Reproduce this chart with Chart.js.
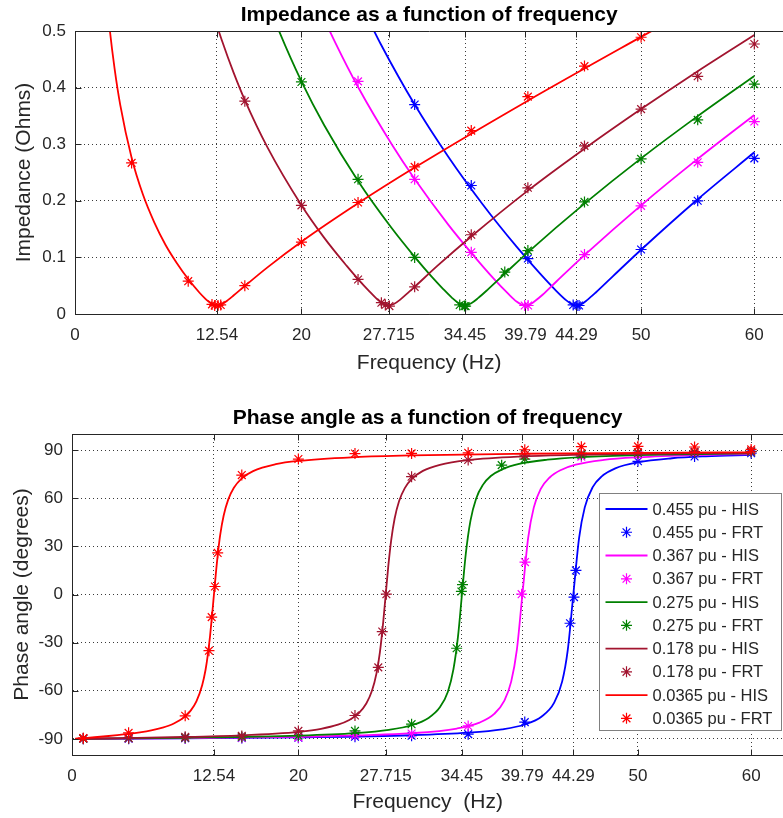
<!DOCTYPE html>
<html>
<head>
<meta charset="utf-8">
<script src="https://cdn.jsdelivr.net/npm/chart.js@4.4.1/dist/chart.umd.min.js"></script>
<style>
  html, body { margin: 0; padding: 0; background: #fff; overflow: hidden; }
  #wrap { position: relative; width: 783px; height: 818px; overflow: hidden; }
  canvas { position: absolute; left: 0; }
  #impChart { top: 0; }
  #phaseChart { top: 395px; }
</style>
</head>
<body>
<div id="wrap">
  <canvas id="impChart" width="790" height="395"></canvas>
  <canvas id="phaseChart" width="790" height="423"></canvas>
</div>
<script>
// axis ticks
const freqTicks = [0, 12.54, 20, 27.715, 34.45, 39.79, 44.29, 50, 60];
const freqTickLabels = ['0', '12.54', '20', '27.715', '34.45', '39.79', '44.29', '50', '60'];
const impTicks = [0, 0.1, 0.2, 0.3, 0.4, 0.5];
const impTickLabels = ['0', '0.1', '0.2', '0.3', '0.4', '0.5'];
const phaseTicks = [-90, -60, -30, 0, 30, 60, 90];
const phaseTickLabels = ['-90', '-60', '-30', '0', '30', '60', '90'];

// 0.455 pu
const his455ImpF = [25, 26, 27, 30, 33, 36, 39, 41, 42.5, 43.4, 43.9, 44.29, 44.7, 45.2, 46, 47.5, 50, 55, 60];
const his455Imp = [0.559, 0.517, 0.477, 0.370, 0.277, 0.194, 0.119, 0.073, 0.041, 0.024, 0.017, 0.015, 0.017, 0.024, 0.038, 0.0665, 0.1135, 0.2027, 0.2857];
const his455PhF = [0.3, 1, 10, 20, 30, 35, 38, 40, 41.5, 42.6, 43.3, 43.8, 44.29, 44.8, 45.3, 46, 46.8, 48, 50, 53, 56, 60];
const his455Ph = [-89.97, -89.96, -89.56, -88.95, -87.68, -86.1, -84.0, -81.0, -76.0, -67.4, -54.3, -34.5, 0, 35.3, 54.3, 66.9, 73.6, 78.6, 82.4, 84.9, 86.1, 87.0];
const frt455F = [1, 5, 10, 15, 20, 25, 30, 35, 40, 44.0, 44.35, 44.52, 50, 55, 60];
const frt455Imp = [null, null, null, null, null, null, 0.370, 0.227, 0.098, 0.016, 0.015, 0.015, 0.114, 0.200, 0.275];
const frt455Ph = [-89.9, -89.8, -89.6, -89.4, -89.2, -88.6, -88.0, -87.0, -79.5, -17.9, -1.6, 15.0, 83.0, 86.0, 88.0];

// 0.367 pu
const his367ImpF = [20, 22, 23, 25, 28, 30, 33, 35, 37, 38.3, 39, 39.4, 39.79, 40.2, 40.6, 41.3, 42.5, 45, 50, 55, 60];
const his367Imp = [0.618, 0.522, 0.479, 0.401, 0.299, 0.2385, 0.157, 0.108, 0.062, 0.035, 0.022, 0.017, 0.015, 0.017, 0.0225, 0.034, 0.057, 0.104, 0.192, 0.274, 0.3515];
const his367PhF = [0.3, 1, 10, 20, 30, 34, 36, 37.3, 38.2, 38.8, 39.3, 39.79, 40.3, 40.8, 41.4, 42.2, 43.2, 44.5, 47, 50, 55, 60];
const his367Ph = [-89.97, -89.95, -89.44, -88.61, -86.4, -83.5, -79.8, -74.4, -66.1, -54.3, -34.5, 0, 35.3, 54.3, 65.6, 72.9, 77.6, 80.9, 83.85, 85.5, 86.9, 87.55];
const frt367F = [1, 5, 10, 15, 20, 25, 30, 35, 39.72, 40.02, 45, 50, 55, 60];
const frt367Imp = [null, null, null, null, null, 0.411, 0.238, 0.109, 0.015, 0.015, 0.105, 0.191, 0.268, 0.340];
const frt367Ph = [-89.8, -89.7, -89.5, -89.2, -89.0, -87.6, -86.6, -81.9, 0.2, 20.2, 85.9, 86.9, 88.3, 89.0];

// 0.275 pu
const his275ImpF = [15, 17, 18, 20, 22, 25, 28, 30, 31.5, 32.5, 33.3, 33.9, 34.45, 35, 35.6, 36.5, 38, 40, 45, 50, 55, 60];
const his275Imp = [0.670, 0.552, 0.501, 0.411, 0.334, 0.235, 0.151, 0.101, 0.066, 0.0446, 0.0286, 0.019, 0.015, 0.019, 0.028, 0.044, 0.072, 0.109, 0.195, 0.275, 0.3496, 0.4206];
const his275PhF = [0.3, 1, 10, 20, 25, 28, 30, 31.5, 32.5, 33.2, 33.7, 34.1, 34.45, 34.8, 35.2, 35.7, 36.3, 37, 38, 39.5, 42, 45, 50, 60];
const his275Ph = [-89.97, -89.93, -89.24, -87.9, -86.34, -84.3, -81.46, -76.9, -70.3, -60.7, -46.5, -26.3, 0, 26.0, 45.9, 59.7, 68.3, 73.8, 78.0, 81.4, 84.0, 85.6, 86.9, 87.96];
const frt275F = [1, 5, 10, 15, 20, 25, 30, 33.98, 34.4, 34.5, 37.96, 40, 45, 50, 55, 60];
const frt275Imp = [null, null, null, null, 0.410, 0.238, 0.100, 0.016, 0.014, 0.014, 0.074, 0.112, 0.198, 0.274, 0.343, 0.406];
const frt275Ph = [-89.8, -89.6, -89.2, -88.8, -88.0, -85.0, -80.8, -33.5, 1.9, 6.1, 80.6, 84.4, 87.0, 88.0, 88.5, 89.0];

// 0.178 pu
const his178ImpF = [10, 12, 13, 14, 15, 17, 20, 22, 24, 25, 26, 26.7, 27.2, 27.715, 28.2, 28.7, 29.5, 30, 32, 35, 40, 45, 50, 55, 60];
const his178Imp = [0.698, 0.5435, 0.482, 0.427, 0.378, 0.2945, 0.1923, 0.135, 0.085, 0.0617, 0.040, 0.026, 0.0185, 0.015, 0.018, 0.025, 0.039, 0.048, 0.085, 0.137, 0.218, 0.292, 0.362, 0.429, 0.493];
const his178PhF = [0.3, 1, 5, 10, 15, 18, 20, 22, 23.5, 24.5, 25.3, 26, 26.5, 26.9, 27.2, 27.5, 27.715, 27.95, 28.2, 28.5, 28.9, 29.4, 30, 31, 32.5, 35, 40, 45, 50, 60];
const his178Ph = [-89.97, -89.89, -89.45, -88.77, -87.73, -86.67, -85.54, -83.66, -81.1, -78.2, -74.2, -67.9, -60.0, -49.1, -36.0, -16.7, 0, 18.1, 33.9, 47.2, 58.2, 66.3, 71.9, 77.0, 80.8, 83.7, 86.05, 87.06, 87.6, 88.26];
const frt178F = [1, 5, 10, 15, 20, 25, 27.06, 27.41, 27.77, 30, 35, 40, 45, 50, 55, 60];
const frt178Imp = [null, null, null, 0.376, 0.192, 0.061, 0.020, 0.016, 0.014, 0.048, 0.140, 0.223, 0.297, 0.362, 0.420, 0.477];
const frt178Ph = [-89.6, -89.4, -88.7, -88.1, -85.0, -75.4, -45.4, -23.1, 0.2, 73.4, 83.8, 86.8, 88.0, 88.6, 89.0, 89.2];

// 0.0365 pu
const his0365ImpF = [2.5, 3, 3.5, 4, 5, 6, 7, 8, 9, 10, 11, 11.5, 12, 12.54, 13, 13.5, 14, 15, 17, 20, 25, 30, 40, 50, 52];
const his0365Imp = [0.631, 0.516, 0.433, 0.369, 0.276, 0.211, 0.162, 0.122, 0.0898, 0.0617, 0.0375, 0.0272, 0.0189, 0.015, 0.0178, 0.0245, 0.0326, 0.0495, 0.0824, 0.1277, 0.1956, 0.2587, 0.3769, 0.4896, 0.5118];
const his0365PhF = [0.3, 1, 2, 3, 4, 5, 6, 7, 8, 9, 10, 10.5, 11, 11.5, 11.8, 12, 12.2, 12.4, 12.54, 12.7, 12.9, 13.1, 13.4, 13.8, 14.3, 15, 16, 18, 20, 25, 30, 40, 50, 60];
const his0365Ph = [-89.85, -89.47, -88.93, -88.33, -87.67, -86.89, -85.93, -84.71, -83.0, -80.38, -75.9, -72.2, -66.4, -56.5, -46.9, -37.5, -25.6, -10.9, 0, 12.4, 26.3, 37.5, 49.2, 59.1, 66.5, 72.4, 76.9, 81.2, 83.25, 85.6, 86.7, 87.7, 88.2, 88.6];
const frt0365F = [1, 5, 10, 12.1, 12.34, 12.63, 12.87, 15, 20, 25, 30, 35, 40, 45, 50, 55, 60];
const frt0365Imp = [null, 0.267, 0.058, 0.017, 0.015, 0.015, 0.016, 0.050, 0.127, 0.197, 0.260, 0.324, 0.384, 0.438, 0.489, null, null];
const frt0365Ph = [-89.5, -86.2, -75.6, -35.0, -14.1, 5.0, 25.9, 74.4, 84.4, 87.8, 87.9, 88.3, 90.2, 92.1, 92.3, 91.9, 90.4];

const series = [
  { name: '0.455 pu', color: '#0000ff', impF: his455ImpF, imp: his455Imp, phF: his455PhF, ph: his455Ph, frtF: frt455F, frtImp: frt455Imp, frtPh: frt455Ph },
  { name: '0.367 pu', color: '#ff00ff', impF: his367ImpF, imp: his367Imp, phF: his367PhF, ph: his367Ph, frtF: frt367F, frtImp: frt367Imp, frtPh: frt367Ph },
  { name: '0.275 pu', color: '#008000', impF: his275ImpF, imp: his275Imp, phF: his275PhF, ph: his275Ph, frtF: frt275F, frtImp: frt275Imp, frtPh: frt275Ph },
  { name: '0.178 pu', color: '#a2142f', impF: his178ImpF, imp: his178Imp, phF: his178PhF, ph: his178Ph, frtF: frt178F, frtImp: frt178Imp, frtPh: frt178Ph },
  { name: '0.0365 pu', color: '#ff0000', impF: his0365ImpF, imp: his0365Imp, phF: his0365PhF, ph: his0365Ph, frtF: frt0365F, frtImp: frt0365Imp, frtPh: frt0365Ph }
];

const FONT = '"Liberation Sans", Arial, sans-serif';
const TXT = '#262626';

function toPoints(xs, ys) {
  return xs.map((x, i) => ({ x: x, y: ys[i] }));
}

function buildDatasets(kind) {
  const out = [];
  series.forEach((s, i) => {
    const lineData = kind === 'imp' ? toPoints(s.impF, s.imp) : toPoints(s.phF, s.ph);
    const starData = kind === 'imp' ? toPoints(s.frtF, s.frtImp) : toPoints(s.frtF, s.frtPh);
    out.push({
      label: s.name + ' - HIS',
      data: lineData,
      borderColor: s.color,
      borderWidth: 1.8,
      pointRadius: 0,
      fill: false,
      cubicInterpolationMode: 'monotone',
      order: (5 - i) * 2
    });
    out.push({
      label: s.name + ' - FRT',
      data: starData,
      showLine: false,
      borderColor: s.color,
      backgroundColor: s.color,
      pointStyle: 'star',
      pointRadius: 5.5,
      pointBorderWidth: 1.2,
      order: (5 - i) * 2 - 1
    });
  });
  return out;
}

// full axes box with inward ticks, like the original figure
const boxPlugin = {
  id: 'axesBox',
  afterDraw(chart) {
    const { ctx, chartArea: a, scales } = chart;
    const l = Math.round(a.left) + 0.5, t = Math.round(a.top) + 0.5;
    const b = Math.round(a.bottom) + 0.5, r = Math.round(a.right) + 0.5;
    ctx.save();
    ctx.strokeStyle = TXT;
    ctx.lineWidth = 1;
    ctx.beginPath();
    ctx.moveTo(l, t); ctx.lineTo(r, t);
    ctx.moveTo(l, t); ctx.lineTo(l, b);
    ctx.moveTo(l, b); ctx.lineTo(r, b);
    scales.x.ticks.forEach(tk => {
      const x = Math.round(scales.x.getPixelForValue(tk.value)) + 0.5;
      ctx.moveTo(x, b); ctx.lineTo(x, b - 6);
      ctx.moveTo(x, t); ctx.lineTo(x, t + 6);
    });
    scales.y.ticks.forEach(tk => {
      const y = Math.round(scales.y.getPixelForValue(tk.value)) + 0.5;
      ctx.moveTo(l, y); ctx.lineTo(l + 6, y);
    });
    ctx.stroke();
    ctx.restore();
  }
};

function drawStar(ctx, x, y, r) {
  const d = r * Math.SQRT1_2;
  ctx.beginPath();
  ctx.moveTo(x - r, y); ctx.lineTo(x + r, y);
  ctx.moveTo(x, y - r); ctx.lineTo(x, y + r);
  ctx.moveTo(x - d, y - d); ctx.lineTo(x + d, y + d);
  ctx.moveTo(x - d, y + d); ctx.lineTo(x + d, y - d);
  ctx.stroke();
}

// legend box inside the phase plot
const boxLegend = {
  id: 'boxLegend',
  afterDraw(chart) {
    const { ctx, chartArea: a } = chart;
    const w = 182, h = 237;
    const x0 = 599.5, y0 = Math.round(a.top) + 59.5;
    ctx.save();
    ctx.fillStyle = '#fff';
    ctx.fillRect(x0, y0, w, h);
    ctx.strokeStyle = '#808080';
    ctx.lineWidth = 1;
    ctx.strokeRect(x0, y0, w, h);
    ctx.font = '16.5px ' + FONT;
    ctx.textBaseline = 'middle';
    chart.data.datasets.forEach((ds, i) => {
      const y = y0 + 15.5 + i * 23.26;
      ctx.strokeStyle = ds.borderColor;
      if (ds.showLine === false) {
        ctx.lineWidth = 1.2;
        drawStar(ctx, x0 + 27, y, 5.5);
      } else {
        ctx.lineWidth = 1.8;
        ctx.beginPath();
        ctx.moveTo(x0 + 6, y); ctx.lineTo(x0 + 48, y);
        ctx.stroke();
      }
      ctx.fillStyle = TXT;
      ctx.fillText(ds.label, x0 + 53, y + 1);
    });
    ctx.restore();
  }
};

function makeChart(canvasId, opts) {
  const tickList = opts.yTicks;
  return new Chart(document.getElementById(canvasId), {
    type: 'line',
    data: { datasets: buildDatasets(opts.kind) },
    options: {
      responsive: false,
      animation: false,
      devicePixelRatio: 1,
      events: [],
      layout: { padding: 0 },
      plugins: {
        legend: { display: false },
        tooltip: { enabled: false },
        title: {
          display: true,
          text: opts.title,
          fullSize: false,
          color: '#000',
          font: { family: FONT, size: 21, weight: 'bold', lineHeight: 1.2 },
          padding: opts.titlePad
        }
      },
      scales: {
        x: {
          type: 'linear',
          min: 0,
          max: opts.xMax,
          afterBuildTicks: scale => { scale.ticks = freqTicks.map(v => ({ value: v })); },
          afterFit: scale => { scale.height = opts.xHeight; scale.paddingLeft = 0; scale.paddingRight = 0; },
          ticks: {
            autoSkip: false,
            maxRotation: 0,
            padding: 11,
            color: TXT,
            font: { family: FONT, size: 17 },
            callback: (v, i) => freqTickLabels[i]
          },
          grid: { color: '#3a3a3a', lineWidth: 1, drawTicks: false },
          border: { display: true, color: TXT, width: 1, dash: [1, 3] },
          title: {
            display: true,
            text: opts.xLabel,
            color: TXT,
            font: { family: FONT, size: 21, lineHeight: 1.2 },
            padding: { top: 0, bottom: opts.xTitlePad }
          }
        },
        y: {
          min: opts.yMin,
          max: opts.yMax,
          afterBuildTicks: scale => { scale.ticks = tickList.map(v => ({ value: v })); },
          afterFit: scale => { scale.width = opts.yWidth; },
          ticks: {
            padding: 9,
            color: TXT,
            font: { family: FONT, size: 17 },
            callback: (v, i) => opts.yLabels[i]
          },
          grid: { color: '#3a3a3a', lineWidth: 1, drawTicks: false },
          border: { display: true, color: TXT, width: 1, dash: [1, 3] },
          title: {
            display: true,
            text: opts.yLabel,
            color: TXT,
            font: { family: FONT, size: 21, lineHeight: 1.2 },
            padding: { top: opts.yTitlePad, bottom: 0 }
          }
        }
      }
    },
    plugins: opts.legend ? [boxPlugin, boxLegend] : [boxPlugin]
  });
}

makeChart('impChart', {
  kind: 'imp',
  title: 'Impedance as a function of frequency',
  titlePad: { top: 2.4, bottom: 3.4 },
  xMax: 62.56,
  xHeight: 81,
  xLabel: 'Frequency (Hz)',
  xTitlePad: 19.4,
  yMin: 0,
  yMax: 0.5,
  yTicks: impTicks,
  yLabels: impTickLabels,
  yWidth: 75,
  yLabel: 'Impedance (Ohms)',
  yTitlePad: 11.4,
  legend: false
});

makeChart('phaseChart', {
  kind: 'phase',
  title: 'Phase angle as a function of frequency',
  titlePad: { top: 10.4, bottom: 3.4 },
  xMax: 62.84,
  xHeight: 63,
  xLabel: 'Frequency  (Hz)',
  xTitlePad: 3.4,
  yMin: -100,
  yMax: 100,
  yTicks: phaseTicks,
  yLabels: phaseTickLabels,
  yWidth: 72,
  yLabel: 'Phase angle (degrees)',
  yTitlePad: 9.4,
  legend: true
});
</script>
</body>
</html>
